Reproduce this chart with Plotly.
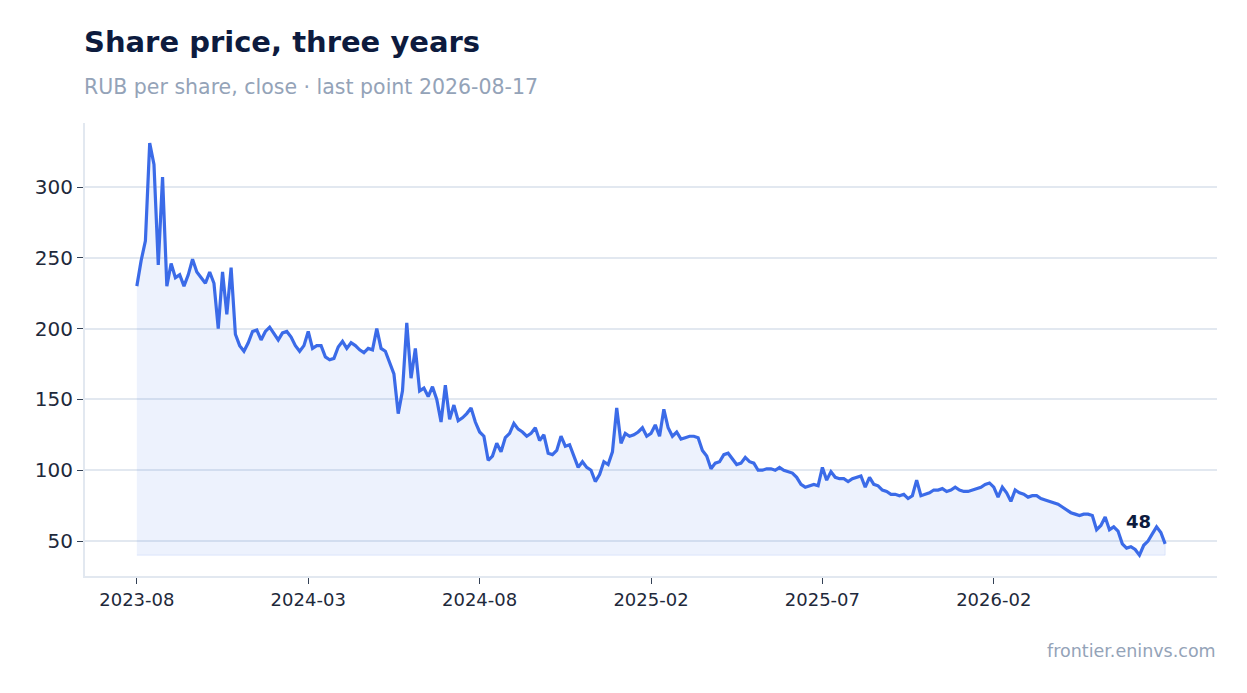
import plotly.graph_objects as go

# Closing price, RUB per share (roughly every third trading day)
price = [
    230, 248, 262, 331, 316, 245, 307, 230, 246, 236,
    238, 230, 238, 249, 240, 236, 232, 240, 232, 200,
    240, 210, 243, 196, 188, 184, 190, 198, 199, 192,
    198, 201, 196, 192, 197, 198, 194, 188, 184, 188,
    198, 186, 188, 188, 180, 178, 179, 187, 191, 186,
    190, 188, 185, 183, 186, 185, 200, 186, 184, 176,
    168, 140, 156, 204, 165, 186, 156, 158, 152, 159,
    150, 134, 160, 136, 146, 135, 137, 140, 144, 134,
    127, 124, 107, 110, 119, 113, 123, 126, 133, 129,
    127, 124, 126, 130, 121, 125, 112, 111, 114, 124,
    117, 118, 110, 102, 106, 102, 100, 92, 97, 106,
    104, 113, 144, 119, 126, 124, 125, 127, 130, 124,
    126, 132, 124, 143, 130, 124, 127, 122, 123, 124,
    124, 123, 114, 110, 101, 105, 106, 111, 112, 108,
    104, 105, 109, 106, 105, 100, 100, 101, 101, 100,
    102, 100, 99, 98, 95, 90, 88, 89, 90, 89,
    102, 93, 99, 95, 94, 94, 92, 94, 95, 96,
    88, 95, 90, 89, 86, 85, 83, 83, 82, 83,
    80, 82, 93, 82, 83, 84, 86, 86, 87, 85,
    86, 88, 86, 85, 85, 86, 87, 88, 90, 91,
    88, 81, 88, 84, 78, 86, 84, 83, 81, 82,
    82, 80, 79, 78, 77, 76, 74, 72, 70, 69,
    68, 69, 69, 68, 58, 61, 67, 58, 60, 57,
    48, 45, 46, 44, 40, 47, 50, 55, 60, 56,
    48,
]
tick_labels = ["2023-08", "2024-03", "2024-08", "2025-02", "2025-07", "2026-02"]
tick_step = 40

LINE = "#3b6be8"
FILL = "rgba(59,107,232,0.09)"
NAVY = "#0d1b3e"
MUTED = "#94a3b8"
GRID = "#e2e8f0"

idx = list(range(len(price)))
base = min(price)

fig = go.Figure()
# shaded area down to the lowest close
fig.add_trace(
    go.Scatter(
        x=idx + idx[::-1],
        y=price + [base] * len(price),
        fill="toself",
        fillcolor=FILL,
        line=dict(color="rgba(59,107,232,0.12)", width=1),
        hoverinfo="skip",
        showlegend=False,
    )
)
fig.add_trace(
    go.Scatter(
        x=idx,
        y=price,
        mode="lines",
        line=dict(color=LINE, width=3.2),
        showlegend=False,
    )
)

fig.add_annotation(
    x=idx[-1],
    y=price[-1],
    text=f"<b>{price[-1]}</b>",
    showarrow=False,
    xanchor="right",
    yanchor="bottom",
    xshift=-12,
    yshift=10,
    font=dict(size=18, color=NAVY),
)
fig.add_annotation(
    xref="paper", yref="paper", x=0, y=1,
    xanchor="left", yanchor="middle", xshift=-3, yshift=81,
    text="<b>Share price, three years</b>",
    showarrow=False,
    font=dict(size=29, color=NAVY),
)
fig.add_annotation(
    xref="paper", yref="paper", x=0, y=1,
    xanchor="left", yanchor="middle", xshift=-3, yshift=36,
    text="RUB per share, close · last point 2026-08-17",
    showarrow=False,
    font=dict(size=20.5, color=MUTED),
)
fig.add_annotation(
    xref="paper", yref="paper", x=1, y=0,
    xanchor="right", yanchor="middle", xshift=1, yshift=-75,
    text="frontier.eninvs.com",
    showarrow=False,
    font=dict(size=17.5, color=MUTED),
)

fig.update_layout(
    width=1231,
    height=677,
    margin=dict(l=77, r=22, t=115, b=109),
    paper_bgcolor="white",
    plot_bgcolor="white",
    font=dict(family="DejaVu Sans", color="#1e293b"),
    hovermode="x",
)
fig.update_xaxes(
    range=[-12.1, len(price) - 1 + 12.1],
    tickvals=[i * tick_step for i in range(len(tick_labels))],
    ticktext=tick_labels,
    showgrid=False,
    zeroline=False,
    showline=True,
    linecolor=GRID,
    linewidth=2,
    ticks="outside",
    ticklen=6,
    tickcolor="#334155",
    tickfont=dict(size=18, color="#1e293b"),
)
fig.update_yaxes(
    range=[25.3, 345.2],
    tickvals=[50, 100, 150, 200, 250, 300],
    showgrid=True,
    gridcolor=GRID,
    gridwidth=2,
    zeroline=False,
    showline=True,
    linecolor=GRID,
    linewidth=2,
    ticks="outside",
    ticklen=6,
    tickcolor="#334155",
    tickfont=dict(size=20, color="#1e293b"),
)

fig.write_html("out.html")
